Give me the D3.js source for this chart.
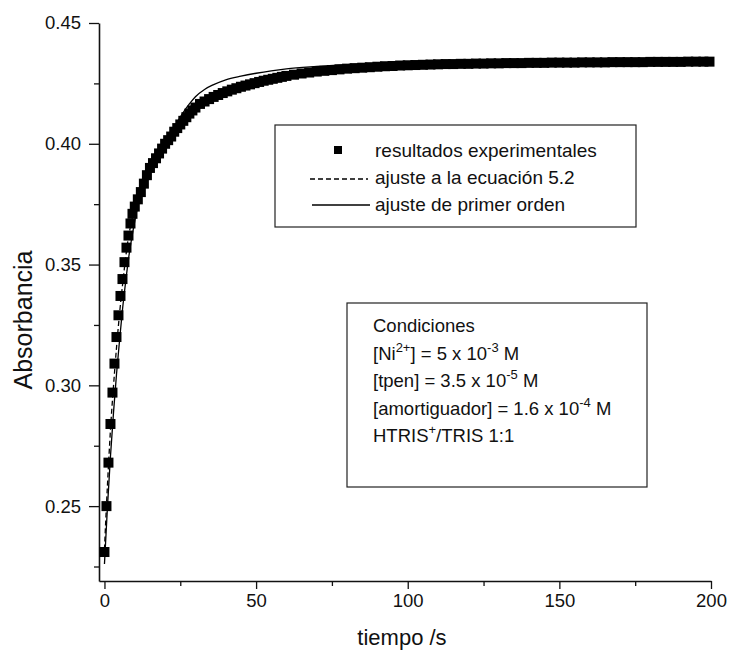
<!DOCTYPE html>
<html>
<head>
<meta charset="utf-8">
<script src="https://cdn.jsdelivr.net/npm/d3@7"></script>
<style>
  body { margin: 0; background: #fff; }
  svg text { font-family: "Liberation Sans", Arial, sans-serif; fill: #111; }
</style>
</head>
<body>
<div id="chart"></div>
<script>
// absorbance vs time, Ni2+ / tpen kinetics

var width = 730, height = 651;

// experimental points (time in s, absorbance)
var expTime = [0, 0.66, 1.32, 1.98, 2.64, 3.3, 3.96, 4.62, 5.28, 5.94, 6.6, 7.26, 7.92, 8.58, 9.24,
  10, 11, 12, 13, 14, 15, 16, 17, 18, 19, 20, 21, 22, 23, 24, 25, 26, 27, 28, 29, 30,
  31.5, 33, 34.5, 36, 37.5, 39, 40.5, 42, 43.5, 45, 46.5, 48, 49.5, 51, 52.5, 54, 55.5, 57, 58.5,
  60, 62.5, 65, 67.5, 70, 72.5, 75, 77.5, 80, 82.5, 85, 87.5, 90, 92.5, 95, 97.5, 100,
  102.5, 105, 107.5, 110, 112.5, 115, 117.5, 120, 122.5, 125, 127.5, 130, 132.5, 135, 137.5, 140,
  142.5, 145, 147.5, 150, 152.5, 155, 157.5, 160, 162.5, 165, 167.5, 170, 172.5, 175, 177.5, 180,
  182.5, 185, 187.5, 190, 192.5, 195, 197.5, 199.5];
var expAbs = [0.231, 0.250, 0.268, 0.284, 0.297, 0.309, 0.320, 0.329, 0.337, 0.344, 0.351, 0.357, 0.362, 0.367, 0.371,
  0.374, 0.377, 0.380, 0.3835, 0.387, 0.390, 0.392, 0.394, 0.396, 0.398, 0.400, 0.4015, 0.403, 0.405, 0.4065, 0.408, 0.4095, 0.411, 0.4125, 0.4138, 0.415,
  0.4165, 0.4175, 0.4185, 0.4194, 0.4202, 0.421, 0.4217, 0.4224, 0.423, 0.4236, 0.4241, 0.4246, 0.4251, 0.4256, 0.4261, 0.4265, 0.4269, 0.4273, 0.4277,
  0.4281, 0.4286, 0.4291, 0.4295, 0.4299, 0.4302, 0.4305, 0.4308, 0.4311, 0.4313, 0.4315, 0.4317, 0.4319, 0.4321, 0.4322, 0.4324, 0.4325,
  0.4326, 0.4327, 0.4328, 0.4329, 0.433, 0.433, 0.4331, 0.4331, 0.4332, 0.4332, 0.4333, 0.4333, 0.4334, 0.4334, 0.4334, 0.4335,
  0.4335, 0.4335, 0.4336, 0.4336, 0.4336, 0.4336, 0.4337, 0.4337, 0.4337, 0.4337, 0.4338, 0.4338, 0.4338, 0.4338, 0.4338, 0.4339,
  0.4339, 0.4339, 0.4339, 0.4339, 0.434, 0.434, 0.434, 0.434];

// fit to equation 5.2 (dashed, sits inside the band of points)
var fit52Time = [0, 0.5, 1, 1.5, 2, 3, 4, 5, 6, 7, 8, 9, 10, 12, 14, 16, 18, 20, 23, 26, 30, 35, 40, 45, 50, 60, 70, 80, 100, 130, 160, 200];
var fit52Abs = [0.232, 0.246, 0.259, 0.271, 0.282, 0.300, 0.316, 0.330, 0.342, 0.353, 0.362, 0.368, 0.374, 0.380, 0.387, 0.392, 0.396, 0.400, 0.405, 0.4095, 0.415, 0.419, 0.4217, 0.4236, 0.4253, 0.428, 0.4299, 0.4311, 0.4325, 0.4333, 0.4337, 0.434];

// first order fit (solid)
var fit1Time = [0, 1, 2, 3, 4, 5, 6, 7, 8, 9, 10, 12, 14, 16, 18, 20, 22, 24, 26, 28, 30, 33, 36, 40, 45, 50, 55, 60, 70, 80, 100, 130, 160, 200];
var fit1Abs = [0.226, 0.250, 0.271, 0.289, 0.305, 0.319, 0.332, 0.343, 0.353, 0.361, 0.368, 0.380, 0.3875, 0.394, 0.398, 0.4015, 0.405, 0.409, 0.413, 0.4165, 0.4195, 0.4225, 0.4245, 0.4265, 0.428, 0.4292, 0.4302, 0.431, 0.432, 0.4328, 0.4335, 0.4339, 0.434, 0.434];

var xTicks = [0, 50, 100, 150, 200],
    xMinor = [25, 75, 125, 175],
    yTicks = [0.25, 0.30, 0.35, 0.40, 0.45],
    yMinor = [0.225, 0.275, 0.325, 0.375, 0.425];

var legendLabels = ["resultados experimentales", "ajuste a la ecuación 5.2", "ajuste de primer orden"];

var svg = d3.select("#chart").append("svg")
    .attr("width", width)
    .attr("height", height);

var x = d3.scaleLinear().domain([-1.8, 200]).range([99, 711]);
var y = d3.scaleLinear().domain([0.219, 0.45]).range([581, 23]);

// axes
svg.append("g").attr("transform", "translate(0,581)")
    .call(d3.axisBottom(x).tickValues(xTicks).tickSize(8).tickSizeOuter(0).tickPadding(5));
svg.append("g").attr("transform", "translate(0,581)")
    .call(d3.axisBottom(x).tickValues(xMinor).tickSize(5).tickFormat(""))
    .select(".domain").remove();
svg.append("g").attr("transform", "translate(99,0)")
    .call(d3.axisLeft(y).tickValues(yTicks).tickSize(10).tickSizeOuter(0).tickPadding(8).tickFormat(d3.format(".2f")));
svg.append("g").attr("transform", "translate(99,0)")
    .call(d3.axisLeft(y).tickValues(yMinor).tickSize(5).tickFormat(""))
    .select(".domain").remove();

svg.selectAll(".tick line").attr("stroke", "#111").attr("stroke-width", 1.3);
svg.selectAll(".domain").attr("stroke", "#111").attr("stroke-width", 1.6);
svg.selectAll(".tick text").attr("font-size", 18.5).attr("fill", "#111")
    .attr("font-family", "Liberation Sans, Arial, sans-serif");

// axis titles
svg.append("text")
    .attr("x", 402).attr("y", 645)
    .attr("text-anchor", "middle")
    .attr("font-size", 22)
    .text("tiempo /s");
svg.append("text")
    .attr("transform", "translate(32,320) rotate(-90)")
    .attr("text-anchor", "middle")
    .attr("font-size", 25)
    .text("Absorbancia");

// experimental squares
var sq = 10;
svg.append("g").selectAll("rect")
  .data(expTime.map(function(t, i) { return [t, expAbs[i]]; }))
  .enter().append("rect")
    .attr("x", function(d) { return x(d[0]) - sq / 2; })
    .attr("y", function(d) { return y(d[1]) - sq / 2; })
    .attr("width", sq)
    .attr("height", sq)
    .attr("fill", "#000");

var line = d3.line()
    .x(function(d) { return x(d[0]); })
    .y(function(d) { return y(d[1]); })
    .curve(d3.curveMonotoneX);

svg.append("path")
    .datum(fit52Time.map(function(t, i) { return [t, fit52Abs[i]]; }))
    .attr("d", line)
    .attr("fill", "none")
    .attr("stroke", "#000")
    .attr("stroke-width", 1.3)
    .attr("stroke-dasharray", "5,3");

svg.append("path")
    .datum(fit1Time.map(function(t, i) { return [t, fit1Abs[i]]; }))
    .attr("d", line)
    .attr("fill", "none")
    .attr("stroke", "#000")
    .attr("stroke-width", 1.3);

// legend box
var leg = svg.append("g");
leg.append("rect")
    .attr("x", 275).attr("y", 125).attr("width", 361).attr("height", 102)
    .attr("fill", "#fff").attr("stroke", "#222").attr("stroke-width", 1.2);
leg.append("rect")
    .attr("x", 334).attr("y", 146).attr("width", 8).attr("height", 8)
    .attr("fill", "#000");
leg.append("line")
    .attr("x1", 310).attr("x2", 368).attr("y1", 179).attr("y2", 179)
    .attr("stroke", "#000").attr("stroke-width", 1.4).attr("stroke-dasharray", "5,3");
leg.append("line")
    .attr("x1", 312).attr("x2", 370).attr("y1", 205).attr("y2", 205)
    .attr("stroke", "#000").attr("stroke-width", 1.4);
leg.selectAll("text.lab")
  .data(legendLabels)
  .enter().append("text")
    .attr("class", "lab")
    .attr("x", 375)
    .attr("y", function(d, i) { return 157 + i * 27; })
    .attr("font-size", 19)
    .text(function(d) { return d; });

// conditions box
var cond = svg.append("g");
cond.append("rect")
    .attr("x", 347).attr("y", 303).attr("width", 300).attr("height", 184)
    .attr("fill", "#fff").attr("stroke", "#222").attr("stroke-width", 1.2);

var cx = 373, lh = 27.5, fs = 18.5;
function condLine(i) {
  return cond.append("text").attr("x", cx).attr("y", 332 + i * lh).attr("font-size", fs);
}
condLine(0).text("Condiciones");

var t1 = condLine(1);
t1.append("tspan").text("[Ni");
t1.append("tspan").attr("dy", -8).attr("font-size", 13).text("2+");
t1.append("tspan").attr("dy", 8).text("] = 5 x 10");
t1.append("tspan").attr("dy", -8).attr("font-size", 13).text("-3");
t1.append("tspan").attr("dy", 8).text("  M");

var t2 = condLine(2);
t2.append("tspan").text("[tpen] = 3.5 x 10");
t2.append("tspan").attr("dy", -8).attr("font-size", 13).text("-5");
t2.append("tspan").attr("dy", 8).text(" M");

var t3 = condLine(3);
t3.append("tspan").text("[amortiguador] = 1.6 x 10");
t3.append("tspan").attr("dy", -8).attr("font-size", 13).text("-4");
t3.append("tspan").attr("dy", 8).text("  M");

var t4 = condLine(4);
t4.append("tspan").text("HTRIS");
t4.append("tspan").attr("dy", -8).attr("font-size", 13).text("+");
t4.append("tspan").attr("dy", 8).text("/TRIS 1:1");
</script>
</body>
</html>
